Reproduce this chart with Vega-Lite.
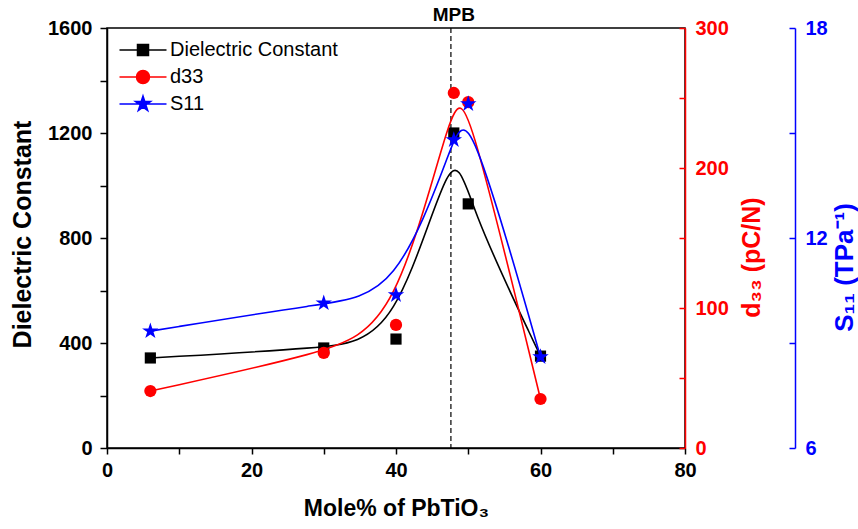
{
  "$schema": "https://vega.github.io/schema/vega-lite/v6.json",
  "width": 578,
  "height": 420,
  "autosize": {"type": "none"},
  "padding": {"left": 107, "top": 28, "right": 173, "bottom": 81},
  "background": "white",
  "config": {
    "font": "Liberation Sans",
    "view": {"stroke": "black", "strokeWidth": 1.5},
    "axis": {
      "grid": false,
      "labelFont": "Liberation Sans",
      "labelFontWeight": "bold",
      "labelFontSize": 20,
      "labelColor": "black",
      "titleFont": "Liberation Sans",
      "titleFontWeight": "bold",
      "titleFontSize": 22,
      "titleColor": "black",
      "domainColor": "black",
      "domainWidth": 1.5,
      "tickColor": "black",
      "tickWidth": 1.5,
      "tickSize": 7,
      "labelPadding": 8
    }
  },
  "data": {
    "values": [
      {"x": 6, "dc": 343, "d33": 40.7, "s11": 9.34},
      {"x": 30, "dc": 381, "d33": 67.9, "s11": 10.14},
      {"x": 40, "dc": 415, "d33": 87.9, "s11": 10.37},
      {"x": 48, "dc": 1200, "d33": 253.6, "s11": 14.8},
      {"x": 50, "dc": 930, "d33": 247, "s11": 15.83},
      {"x": 60, "dc": 350, "d33": 35, "s11": 8.6}
    ]
  },
  "encoding": {
    "x": {
      "field": "x",
      "type": "quantitative",
      "scale": {"domain": [0, 80], "nice": false},
      "axis": {
        "values": [0, 10, 20, 30, 40, 50, 60, 70, 80],
        "labelExpr": "datum.value % 20 === 0 ? datum.label : ''",
        "title": "Mole% of PbTiO₃",
        "titleFontSize": 23,
        "titlePadding": 17,
        "labelPadding": 6,
        "tickSize": 6,
        "labelFlush": false
      }
    }
  },
  "layer": [
    {
      "layer": [
        {
          "data": {"values": [{"mpb": 47.6}]},
          "mark": {"type": "rule", "color": "black", "strokeWidth": 1.2, "strokeDash": [5, 3]},
          "encoding": {"x": {"field": "mpb", "type": "quantitative"}}
        },
        {
          "data": {"values": [{"label": "MPB", "x": 48, "dc": 1600}]},
          "mark": {"type": "text", "fontWeight": "bold", "fontSize": 19, "dy": -13, "color": "black", "clip": false},
          "encoding": {
            "y": {"field": "dc", "type": "quantitative", "scale": {"domain": [0, 1600], "nice": false}},
            "text": {"field": "label"}
          }
        },
        {
          "mark": {"type": "line", "interpolate": "basis", "color": "black", "strokeWidth": 1.6},
          "encoding": {
            "y": {
              "field": "dc",
              "type": "quantitative",
              "scale": {"domain": [0, 1600], "nice": false},
              "axis": {
                "values": [0, 200, 400, 600, 800, 1000, 1200, 1400, 1600],
                "labelExpr": "datum.value % 400 === 0 ? datum.label : ''",
                "title": "Dielectric Constant",
                "titleFontSize": 25,
                "titlePadding": 12,
                "titleY": 206,
                "format": "d"
              }
            }
          }
        },
        {
          "mark": {"type": "point", "shape": "square", "filled": true, "size": 125, "opacity": 1, "color": "black"},
          "encoding": {
            "y": {"field": "dc", "type": "quantitative", "scale": {"domain": [0, 1600], "nice": false}}
          }
        },
        {
          "data": {"values": [{"series": "Dielectric Constant"}, {"series": "d33"}, {"series": "S11"}]},
          "mark": {"type": "point", "opacity": 0, "strokeWidth": 1.5},
          "encoding": {
            "fill": {
              "field": "series",
              "type": "nominal",
              "scale": {"domain": ["Dielectric Constant", "d33", "S11"], "range": ["#000000", "#ff0000", "#0000ff"]},
              "legend": {
                "title": null,
                "orient": "none",
                "legendX": 25,
                "legendY": 11,
                "padding": 0,
                "symbolSize": 400,
                "symbolStrokeWidth": 1.5,
                "symbolOpacity": 1,
                "labelFont": "Liberation Sans",
                "labelFontSize": 20,
                "labelColor": "black",
                "labelLimit": 400,
                "labelOffset": 16,
                "rowPadding": 6
              }
            },
            "stroke": {
              "field": "series",
              "type": "nominal",
              "scale": {"domain": ["Dielectric Constant", "d33", "S11"], "range": ["#000000", "#ff0000", "#0000ff"]},
              "legend": {
                "title": null,
                "orient": "none",
                "legendX": 25,
                "legendY": 11,
                "padding": 0,
                "symbolSize": 400,
                "symbolStrokeWidth": 1.5,
                "symbolOpacity": 1,
                "labelFont": "Liberation Sans",
                "labelFontSize": 20,
                "labelColor": "black",
                "labelLimit": 400,
                "labelOffset": 16,
                "rowPadding": 6
              }
            },
            "shape": {
              "field": "series",
              "type": "nominal",
              "scale": {
                "domain": ["Dielectric Constant", "d33", "S11"],
                "range": [
                  "M-2.35,0H2.35M-0.55,-0.55H0.55V0.55H-0.55Z",
                  "M-2.35,0H2.35M-0.65,0A0.65,0.65 0 1,0 0.65,0A0.65,0.65 0 1,0 -0.65,0Z",
                  "M-2.35,0H2.35M0,-0.8L0.18,-0.247L0.761,-0.247L0.29,0.094L0.47,0.647L0,0.306L-0.47,0.647L-0.29,0.094L-0.761,-0.247L-0.18,-0.247Z"
                ]
              },
              "legend": {
                "title": null,
                "orient": "none",
                "legendX": 25,
                "legendY": 11,
                "padding": 0,
                "symbolSize": 400,
                "symbolStrokeWidth": 1.5,
                "symbolOpacity": 1,
                "labelFont": "Liberation Sans",
                "labelFontSize": 20,
                "labelColor": "black",
                "labelLimit": 400,
                "labelOffset": 16,
                "rowPadding": 6
              }
            }
          }
        }
      ]
    },
    {
      "layer": [
        {
          "mark": {"type": "line", "interpolate": "basis", "color": "#ff0000", "strokeWidth": 1.6}
        },
        {
          "mark": {"type": "point", "shape": "circle", "filled": true, "size": 150, "opacity": 1, "color": "#ff0000"}
        }
      ],
      "encoding": {
        "y": {
          "field": "d33",
          "type": "quantitative",
          "scale": {"domain": [0, 300], "nice": false},
          "axis": {
            "orient": "right",
            "values": [0, 50, 100, 150, 200, 250, 300],
            "labelExpr": "datum.value % 100 === 0 ? datum.label : ''",
            "title": "d₃₃ (pC/N)",
            "titleAngle": 270,
            "titleBaseline": "top",
            "titlePadding": 11,
            "titleFontSize": 25,
            "titleY": 229,
            "tickSize": -6,
            "labelPadding": 16,
            "domainColor": "#ff0000",
            "tickColor": "#ff0000",
            "labelColor": "#ff0000",
            "titleColor": "#ff0000"
          }
        }
      }
    },
    {
      "layer": [
        {
          "mark": {"type": "line", "interpolate": "basis", "color": "#0000ff", "strokeWidth": 1.6}
        },
        {
          "mark": {"type": "point", "shape": "M0,-1L0.225,-0.309L0.951,-0.309L0.363,0.118L0.588,0.809L0,0.382L-0.588,0.809L-0.363,0.118L-0.951,-0.309L-0.225,-0.309Z", "filled": true, "size": 300, "opacity": 1, "color": "#0000ff"}
        }
      ],
      "encoding": {
        "y": {
          "field": "s11",
          "type": "quantitative",
          "scale": {"domain": [6, 18], "nice": false},
          "axis": {
            "orient": "right",
            "offset": 110,
            "values": [6, 9, 12, 15, 18],
            "labelExpr": "datum.value % 6 === 0 ? datum.label : ''",
            "title": "S₁₁ (TPa⁻¹)",
            "titleAngle": 270,
            "titleBaseline": "top",
            "titlePadding": 4,
            "titleFontSize": 26,
            "titleY": 239,
            "tickSize": -6,
            "labelPadding": 16,
            "domainColor": "#0000ff",
            "tickColor": "#0000ff",
            "labelColor": "#0000ff",
            "titleColor": "#0000ff"
          }
        }
      }
    }
  ],
  "resolve": {"scale": {"y": "independent"}, "axis": {"y": "independent"}}
}
